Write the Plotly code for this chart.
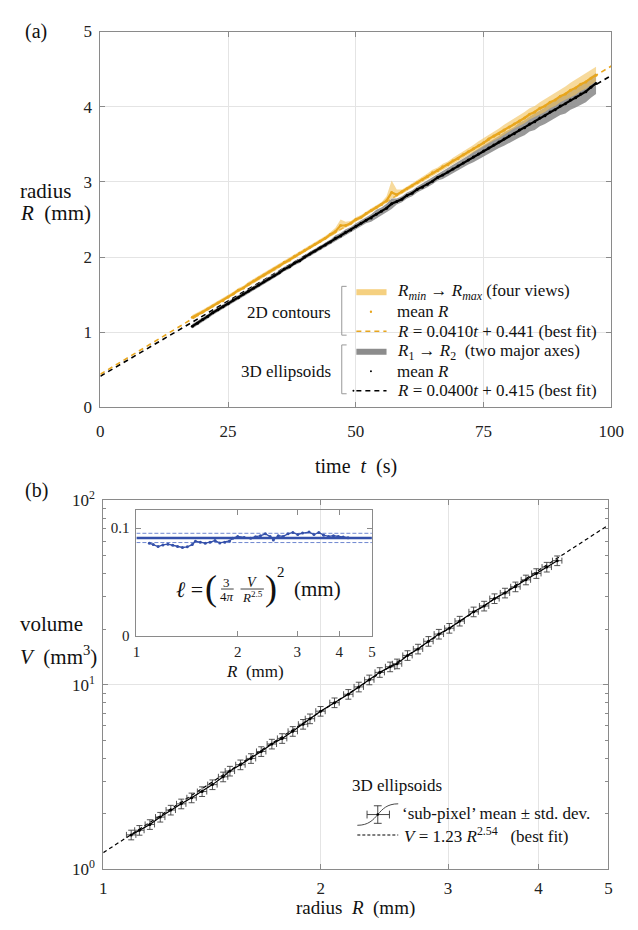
import numpy as np
import plotly.graph_objects as go

W, H = 638, 930


def px(x):
    return x / W


def py(y):
    return 1 - y / H


# ---------------- (a) radius versus time ----------------
t = list(range(18, 98))

contour_mean = [1.20, 1.23, 1.27, 1.31, 1.35, 1.39, 1.42, 1.47, 1.51, 1.56,
                1.59, 1.64, 1.68, 1.72, 1.76, 1.80, 1.84, 1.88, 1.93, 1.96,
                2.01, 2.05, 2.09, 2.13, 2.17, 2.21, 2.25, 2.30, 2.34, 2.42,
                2.42, 2.45, 2.50, 2.53, 2.58, 2.62, 2.66, 2.70, 2.75, 2.86,
                2.83, 2.87, 2.91, 2.95, 2.99, 3.03, 3.07, 3.12, 3.15, 3.20,
                3.23, 3.28, 3.31, 3.36, 3.40, 3.44, 3.48, 3.52, 3.57, 3.61,
                3.64, 3.69, 3.73, 3.77, 3.81, 3.85, 3.90, 3.93, 3.98, 4.01,
                4.06, 4.09, 4.14, 4.17, 4.22, 4.25, 4.30, 4.33, 4.38, 4.42]
contour_min = [1.18, 1.21, 1.25, 1.29, 1.33, 1.37, 1.40, 1.45, 1.49, 1.53,
               1.57, 1.61, 1.65, 1.69, 1.73, 1.77, 1.81, 1.85, 1.90, 1.93,
               1.98, 2.02, 2.06, 2.10, 2.14, 2.18, 2.22, 2.27, 2.31, 2.36,
               2.39, 2.42, 2.47, 2.50, 2.55, 2.59, 2.63, 2.67, 2.72, 2.78,
               2.80, 2.84, 2.88, 2.92, 2.96, 3.00, 3.04, 3.08, 3.11, 3.16,
               3.19, 3.24, 3.27, 3.31, 3.35, 3.39, 3.43, 3.47, 3.51, 3.55,
               3.58, 3.63, 3.67, 3.71, 3.74, 3.78, 3.83, 3.86, 3.90, 3.93,
               3.98, 4.01, 4.06, 4.09, 4.13, 4.16, 4.21, 4.24, 4.29, 4.34]
contour_max = [1.23, 1.26, 1.30, 1.34, 1.38, 1.42, 1.45, 1.50, 1.54, 1.59,
               1.62, 1.67, 1.71, 1.75, 1.79, 1.83, 1.87, 1.91, 1.96, 1.99,
               2.04, 2.08, 2.12, 2.16, 2.20, 2.24, 2.28, 2.33, 2.39, 2.50,
               2.47, 2.48, 2.53, 2.56, 2.61, 2.65, 2.69, 2.73, 2.81, 3.02,
               2.90, 2.90, 2.94, 2.98, 3.02, 3.07, 3.11, 3.16, 3.19, 3.24,
               3.27, 3.32, 3.36, 3.41, 3.45, 3.49, 3.54, 3.58, 3.63, 3.67,
               3.71, 3.76, 3.80, 3.84, 3.88, 3.93, 3.98, 4.01, 4.06, 4.10,
               4.15, 4.18, 4.23, 4.27, 4.32, 4.36, 4.41, 4.44, 4.49, 4.53]

ellipsoid_mean = [1.08, 1.12, 1.17, 1.21, 1.26, 1.30, 1.34, 1.38, 1.43, 1.46,
                  1.51, 1.55, 1.59, 1.63, 1.67, 1.71, 1.75, 1.79, 1.84, 1.87,
                  1.92, 1.95, 2.00, 2.04, 2.08, 2.12, 2.16, 2.20, 2.25, 2.28,
                  2.33, 2.36, 2.41, 2.45, 2.49, 2.52, 2.57, 2.61, 2.65, 2.71,
                  2.74, 2.77, 2.82, 2.85, 2.90, 2.93, 2.97, 3.01, 3.06, 3.09,
                  3.13, 3.17, 3.21, 3.25, 3.29, 3.33, 3.37, 3.41, 3.45, 3.49,
                  3.53, 3.57, 3.61, 3.64, 3.69, 3.72, 3.77, 3.80, 3.85, 3.88,
                  3.93, 3.96, 4.01, 4.04, 4.09, 4.12, 4.17, 4.20, 4.26, 4.31]
ellipsoid_r1 = [1.05, 1.09, 1.14, 1.18, 1.23, 1.27, 1.31, 1.35, 1.40, 1.43,
                1.48, 1.52, 1.56, 1.60, 1.64, 1.68, 1.72, 1.76, 1.81, 1.84,
                1.89, 1.92, 1.97, 2.01, 2.05, 2.09, 2.13, 2.17, 2.21, 2.24,
                2.29, 2.32, 2.37, 2.41, 2.45, 2.47, 2.51, 2.56, 2.59, 2.64,
                2.70, 2.73, 2.78, 2.81, 2.86, 2.89, 2.93, 2.97, 3.02, 3.04,
                3.08, 3.12, 3.15, 3.19, 3.23, 3.26, 3.30, 3.34, 3.37, 3.41,
                3.45, 3.48, 3.52, 3.55, 3.59, 3.62, 3.67, 3.69, 3.74, 3.77,
                3.81, 3.84, 3.89, 3.91, 3.96, 3.99, 4.03, 4.06, 4.12, 4.17]
ellipsoid_r2 = [1.11, 1.15, 1.20, 1.24, 1.29, 1.33, 1.37, 1.41, 1.46, 1.49,
                1.54, 1.58, 1.62, 1.66, 1.70, 1.74, 1.78, 1.82, 1.87, 1.90,
                1.95, 1.98, 2.03, 2.07, 2.11, 2.15, 2.19, 2.23, 2.29, 2.32,
                2.37, 2.40, 2.45, 2.49, 2.53, 2.57, 2.63, 2.66, 2.71, 2.78,
                2.78, 2.81, 2.86, 2.89, 2.94, 2.98, 3.02, 3.06, 3.11, 3.14,
                3.18, 3.22, 3.27, 3.31, 3.35, 3.40, 3.44, 3.48, 3.53, 3.57,
                3.61, 3.66, 3.70, 3.73, 3.79, 3.82, 3.87, 3.91, 3.96, 3.99,
                4.05, 4.08, 4.13, 4.17, 4.22, 4.25, 4.31, 4.34, 4.40, 4.45]

fit_contour = (0.0410, 0.441)     # slope (mm/s), intercept (mm)
fit_ellipsoid = (0.0400, 0.415)
t_fit = [0, 100]

# ---------------- (b) volume versus radius ----------------
R_mm = [1.093, 1.122, 1.160, 1.199, 1.240, 1.282, 1.325, 1.370, 1.416, 1.465,
        1.497, 1.548, 1.601, 1.654, 1.711, 1.768, 1.829, 1.890, 1.932, 1.998,
        2.089, 2.183, 2.257, 2.334, 2.413, 2.494, 2.550, 2.636, 2.726, 2.818,
        2.913, 3.012, 3.113, 3.254, 3.365, 3.478, 3.596, 3.718, 3.844, 3.974,
        4.108, 4.247]
ell_mm = [0.0861, 0.0848, 0.0830, 0.0845, 0.0852, 0.0842, 0.0830, 0.0821, 0.0827, 0.0848,
          0.0879, 0.0870, 0.0861, 0.0870, 0.0885, 0.0864, 0.0870, 0.0882, 0.0906, 0.0924,
          0.0915, 0.0906, 0.0921, 0.0930, 0.0948, 0.0924, 0.0891, 0.0930, 0.0924, 0.0948,
          0.0961, 0.0942, 0.0955, 0.0964, 0.0942, 0.0961, 0.0936, 0.0924, 0.0930, 0.0924,
          0.0918, 0.0912]
ell_mean, ell_sd = 0.0910, 0.0043
fit_volume = (1.23, 2.54)          # V = c * R**p
R_fit = [1, 5]

R_arr = np.array(R_mm)
V_mm3 = 4 * np.pi / 3 * R_arr ** 2.5 * np.sqrt(np.array(ell_mm))

SERIF = "Liberation Serif"
GOLD = "#E8A61E"
GOLD_BAND = "rgba(242,196,96,0.62)"
GREY_BAND = "rgba(135,135,135,0.85)"
BLUE = "#3450AA"
AX = "#8a8a8a"
GRID = "#e4e4e4"

fig = go.Figure()

# fits (a)
for (a, b), col in [(fit_ellipsoid, "black"), (fit_contour, GOLD)]:
    fig.add_trace(go.Scatter(x=t_fit, y=[a * v + b for v in t_fit], mode="lines",
                             line=dict(color=col, width=1.6, dash="5px,4px"),
                             xaxis="x", yaxis="y", hoverinfo="skip"))

# bands (a)
fig.add_trace(go.Scatter(x=t, y=ellipsoid_r1, mode="lines", line=dict(width=0),
                         xaxis="x", yaxis="y"))
fig.add_trace(go.Scatter(x=t, y=ellipsoid_r2, mode="lines", line=dict(width=0),
                         fill="tonexty", fillcolor=GREY_BAND, xaxis="x", yaxis="y"))
fig.add_trace(go.Scatter(x=t, y=contour_min, mode="lines", line=dict(width=0),
                         xaxis="x", yaxis="y"))
fig.add_trace(go.Scatter(x=t, y=contour_max, mode="lines", line=dict(width=0),
                         fill="tonexty", fillcolor=GOLD_BAND, xaxis="x", yaxis="y"))
# means (a)
fig.add_trace(go.Scatter(x=t, y=ellipsoid_mean, mode="lines+markers",
                         line=dict(color="black", width=2.2),
                         marker=dict(color="black", size=3), xaxis="x", yaxis="y"))
fig.add_trace(go.Scatter(x=t, y=contour_mean, mode="lines+markers",
                         line=dict(color=GOLD, width=2.2),
                         marker=dict(color=GOLD, size=3), xaxis="x", yaxis="y"))

# (b) fit and data
c, p = fit_volume
fig.add_trace(go.Scatter(x=R_fit, y=[c * r ** p for r in R_fit], mode="lines",
                         line=dict(color="black", width=1.2, dash="4px,3px"),
                         xaxis="x2", yaxis="y2"))
fig.add_trace(go.Scatter(x=R_mm, y=V_mm3, mode="lines+markers",
                         line=dict(color="black", width=1.2),
                         marker=dict(color="black", size=3),
                         error_x=dict(type="percent", value=1.5, color="#404040",
                                      thickness=0.9, width=3),
                         error_y=dict(type="percent", value=6, color="#404040",
                                      thickness=0.9, width=3),
                         xaxis="x2", yaxis="y2"))

# inset
fig.add_trace(go.Scatter(x=[1, 5], y=[ell_mean, ell_mean], mode="lines",
                         line=dict(color=BLUE, width=2.4), xaxis="x3", yaxis="y3"))
for v in (ell_mean - ell_sd, ell_mean + ell_sd):
    fig.add_trace(go.Scatter(x=[1, 5], y=[v, v], mode="lines",
                             line=dict(color="#7088d0", width=1, dash="4px,2px"),
                             xaxis="x3", yaxis="y3"))
fig.add_trace(go.Scatter(x=R_mm, y=ell_mm, mode="lines+markers",
                         line=dict(color=BLUE, width=1.3),
                         marker=dict(color=BLUE, size=3), xaxis="x3", yaxis="y3"))

tickfont = dict(family=SERIF, size=17, color="#222")
common = dict(showline=True, linecolor=AX, linewidth=1, mirror="ticks",
              ticks="inside", ticklen=5, tickcolor=AX, zeroline=False,
              tickfont=tickfont, gridcolor=GRID, gridwidth=1)
inset_common = dict(common, tickfont=dict(family=SERIF, size=15, color="#222"))

minor_v = [2, 3, 4, 5, 6, 7, 8, 9, 20, 30, 40, 50, 60, 70, 80, 90]

fig.update_layout(
    width=W, height=H, autosize=False,
    margin=dict(l=0, r=0, t=0, b=0),
    paper_bgcolor="white", plot_bgcolor="rgba(0,0,0,0)",
    showlegend=False,
    font=dict(family=SERIF),
    xaxis=dict(domain=[px(99), px(624)], range=[0, 100], anchor="y",
               tickvals=[0, 25, 50, 75, 100], showgrid=True, ticklabelstandoff=8, **common),
    yaxis=dict(domain=[py(405), py(20)], range=[0, 5], anchor="x",
               tickvals=[0, 1, 2, 3, 4, 5], showgrid=True, ticklabelstandoff=4, **common),
    xaxis2=dict(domain=[px(102), px(621)], type="log", range=[0, np.log10(5)],
                anchor="y2", tickvals=[1, 2, 3, 4, 5], ticktext=["1", "2", "3", "4", "5"],
                showgrid=True, ticklabelstandoff=3, **common),
    yaxis2=dict(domain=[py(878), py(500)], type="log", range=[0, 2], anchor="x2",
                tickvals=[1, 10, 100],
                ticktext=["10<sup>0</sup>", "10<sup>1</sup>", "10<sup>2</sup>"],
                showgrid=True, ticklabelstandoff=4,
                minor=dict(tickvals=minor_v, ticks="inside", ticklen=3,
                           tickcolor=AX, showgrid=False),
                **common),
    xaxis3=dict(domain=[px(136), px(378)], type="log", range=[0, np.log10(5)],
                anchor="y3", tickvals=[1, 2, 3, 4, 5], ticktext=["1", "2", "3", "4", "5"],
                showgrid=False, ticklabelstandoff=2, **inset_common),
    yaxis3=dict(domain=[py(639), py(510)], range=[0, 0.117], anchor="x3",
                tickvals=[0, 0.1], ticktext=["0", "0.1"], showgrid=False,
                ticklabelstandoff=3, **inset_common),
)

ann = []


def text(x, y, s, size=16, xanchor="left", **kw):
    ann.append(dict(x=px(x), y=py(y), xref="paper", yref="paper", text=s,
                    showarrow=False, xanchor=xanchor, yanchor="middle",
                    borderpad=0, font=dict(family=SERIF, size=size, color="#111"), **kw))


# panel labels and axis titles
text(33, 20, "(a)", 20, "center")
text(33, 490, "(b)", 20, "center")
text(15, 183, "radius", 21)
text(15, 206, "<i>R</i>  (mm)", 21)
text(362, 466, "time  <i>t</i>  (s)", 20, "center")
text(15, 627, "volume", 21)
text(15, 659, "<i>V</i>  (mm<sup>3</sup>)", 21)
text(361, 918, "radius  <i>R</i>  (mm)", 19, "center")
text(258, 675, "<i>R</i>  (mm)", 17, "center")

shapes = []


def seg(x0, y0, x1, y1, color, width=1, dash=None, layer="above"):
    shapes.append(dict(type="line", xref="paper", yref="paper",
                       x0=px(x0), y0=py(y0), x1=px(x1), y1=py(y1), layer=layer,
                       line=dict(color=color, width=width, dash=dash)))


def dot(x, y, r, color):
    shapes.append(dict(type="circle", xref="paper", yref="paper",
                       x0=px(x - r), x1=px(x + r), y0=py(y + r), y1=py(y - r),
                       fillcolor=color, line=dict(width=0), layer="above"))


def path(pts, color, width=1):
    d = "M " + " L ".join(f"{px(a):.5f},{py(b):.5f}" for a, b in pts)
    shapes.append(dict(type="path", xref="paper", yref="paper", path=d,
                       line=dict(color=color, width=width), layer="above"))


# legend of (a)
shapes.append(dict(type="rect", xref="paper", yref="paper", x0=px(343), x1=px(619),
                   y0=py(399), y1=py(273), fillcolor="white", line=dict(width=0),
                   layer="between"))
path([(352, 281), (347, 281), (347, 331), (352, 331)], "#999", 1)
path([(352, 341), (347, 341), (347, 391), (352, 391)], "#999", 1)
text(337, 308, "2D contours", 17, "right")
text(337, 368, "3D ellipsoids", 17, "right")

rows = [287, 307, 327, 348, 368, 388]
seg(362, rows[0], 393, rows[0], "rgba(242,196,96,0.8)", 6)
dot(377, rows[1], 1.2, GOLD)
seg(362, rows[2], 393, rows[2], GOLD, 1.6, "5px,4px")
seg(362, rows[3], 393, rows[3], "#8c8c8c", 6)
dot(377, rows[4], 1.0, "black")
seg(362, rows[5], 393, rows[5], "black", 1.6, "5px,4px")
dot(359, rows[5], 1.0, "black")

legend_a = [
    "<i>R<sub>min</sub></i> → <i>R<sub>max</sub></i> (four views)",
    "mean <i>R</i>",
    "<i>R</i> = 0.0410<i>t</i> + 0.441 (best fit)",
    "<i>R</i><sub>1</sub> → <i>R</i><sub>2</sub>  (two major axes)",
    "mean <i>R</i>",
    "<i>R</i> = 0.0400<i>t</i> + 0.415 (best fit)",
]
for yy, s in zip(rows, legend_a):
    text(403, yy, s, 17)

# formula in the inset
text(205, 591, "<i>ℓ</i> =", 22, "right")
text(213, 590, "(", 36, "center")
text(229, 584, "3", 13, "center")
text(229, 599, "4<i>π</i>", 13, "center")
seg(223, 591, 236, 591, "#111", 0.8)
text(255, 584, "<i>V</i>", 14, "center")
text(255, 599, "<i>R</i><sup>2.5</sup>", 13, "center")
seg(243, 591, 267, 591, "#111", 0.8)
text(274, 590, ")", 36, "center")
text(285, 574, "2", 15, "center")
text(297, 591, "(mm)", 21)

# legend of (b)
text(357, 792, "3D ellipsoids", 17)
shapes.append(dict(type="path", xref="paper", yref="paper",
                   path=(f"M {px(363):.5f},{py(833):.5f} C {px(386):.5f},{py(833):.5f} "
                         f"{px(382):.5f},{py(811):.5f} {px(405):.5f},{py(811):.5f}"),
                   line=dict(color="#333", width=0.9), layer="above"))
seg(373, 822, 396, 822, "#333", 0.9)
seg(373, 818, 373, 826, "#333", 0.9)
seg(396, 818, 396, 826, "#333", 0.9)
seg(384, 813, 384, 831, "#333", 0.9)
seg(380, 813, 388, 813, "#333", 0.9)
seg(380, 831, 388, 831, "#333", 0.9)
dot(384, 822, 1.3, "black")
text(408, 821, "‘sub-pixel’ mean ± std. dev.", 17)
seg(363, 843, 405, 843, "black", 1.1, "3px,2px")
text(410, 843, "<i>V</i> = 1.23 <i>R</i><sup>2.54</sup>   (best fit)", 17)

fig.update_layout(annotations=ann, shapes=shapes)
fig.write_html("out.html")
